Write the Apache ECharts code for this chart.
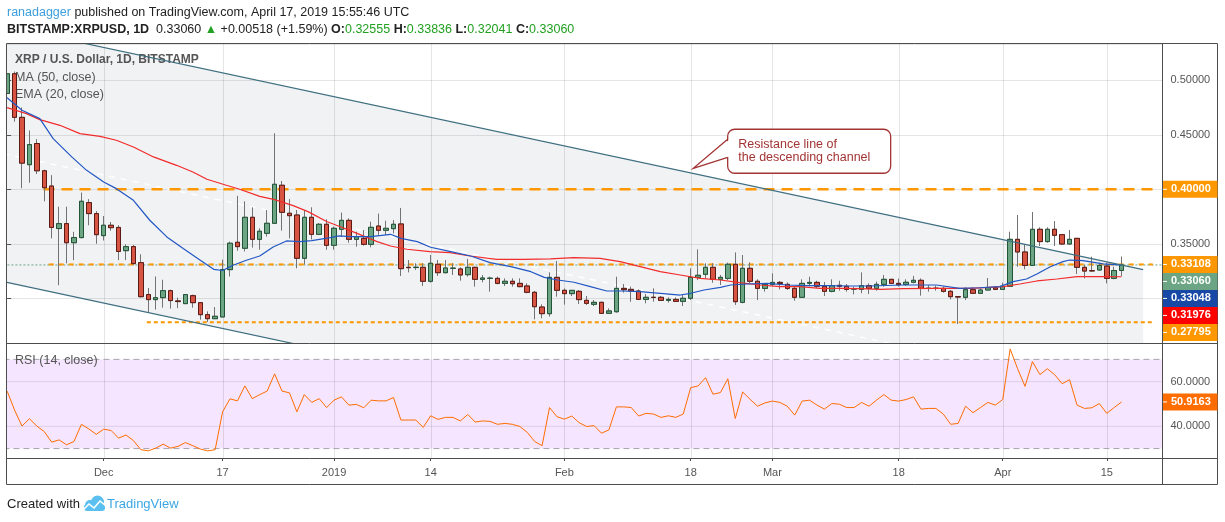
<!DOCTYPE html>
<html>
<head>
<meta charset="utf-8">
<title>XRP / U.S. Dollar, 1D, BITSTAMP</title>
<script src="https://cdn.jsdelivr.net/npm/echarts/dist/echarts.min.js"></script>
<style>
html, body { margin: 0; padding: 0; background: #fff; }
#chart { width: 1225px; height: 522px; }
</style>
</head>
<body>
<div id="chart"></div>
<script>
// Data (daily candles, Nov 18 2018 .. Apr 17 2019)
// ----------
var startDate = Date.UTC(2018, 10, 18)
var padDays = 5

var opens = [
  .488, .506, .466, .4226, .442, .417, .403, .364, .3685, .351,
  .3557, .3878, .3777, .3575, .367, .365, .3437, .3474, .3327, .3034,
  .2988, .3006, .307, .2976, .2951, .3024, .296, .285, .2813, .2829,
  .3263, .3514, .3459, .3743, .3541, .3596, .3688, .4037, .378, .3764,
  .3367, .3743, .3587, .3679, .3486, .3633, .3715, .3541, .355, .3495,
  .3663, .3624, .3639, .3682, .3284, .3282, .3284, .3156, .3312, .3235,
  .3275, .3269, .3217, .3284, .3174, .3183, .3183, .3137, .3156, .3137,
  .3113, .3055, .292, .2859, .3192, .3073, .3043, .3064, .2981, .2945,
  .2963, .2862, .2877, .3091, .3082, .3067, .2990, .3009, .3009, .2981,
  .2990, .2972, .3000, .3192, .3220, .3284, .3174, .3183, .3312, .2963,
  .3275, .3156, .3091, .3128, .3146, .3128, .3091, .3009, .3137, .3146,
  .3110, .3064, .3119, .3110, .3085, .3082, .3116, .3091, .3128, .3174,
  .3137, .3128, .3147, .3165, .3091, .3092, .3091, .3064, .3015, .3009,
  .3079, .3046, .3076, .3097, .3082, .3110, .3541, .3425, .3302, .3633,
  .3520, .3633, .3584, .3498, .3550, .3284, .3253, .3260, .3296, .3183,
  .32555
]
var highs = [
  .510, .508, .475, .454, .446, .418, .413, .384, .384, .361,
  .397, .391, .380, .3755, .370, .367, .3495, .349, .3404, .3095,
  .320, .317, .308, .3006, .3034, .3034, .2966, .288, .292, .3355,
  .352, .394, .389, .3835, .3642, .381, .4514, .4076, .391, .381,
  .381, .3835, .369, .3725, .3658, .3786, .3734, .3611, .3627, .3703,
  .3777, .3712, .3718, .3829, .3351, .3321, .3321, .3397, .3351, .3351,
  .3321, .3284, .3361, .329, .3214, .3199, .3199, .3183, .3183, .3183,
  .3137, .3067, .2945, .3238, .3342, .3091, .3076, .3076, .3021, .2984,
  .2969, .2908, .3198, .3131, .3107, .3082, .3039, .3091, .3021, .3009,
  .3009, .3036, .3275, .3449, .3321, .3321, .3214, .3327, .3421, .3397,
  .3330, .3174, .3137, .3229, .3158, .3146, .3107, .3174, .3198, .3161,
  .3150, .3174, .3161, .3131, .3107, .3238, .3137, .3153, .3214, .3176,
  .3180, .3174, .3205, .3183, .3122, .3116, .3107, .3076, .3018, .3101,
  .3101, .3091, .3186, .3113, .3143, .3611, .3764, .3498, .3792, .3651,
  .3651, .3709, .3590, .3627, .3550, .3306, .3382, .3327, .3327, .3290,
  .33836
]
var lows = [
  .485, .462, .401, .406, .414, .389, .355, .312, .332, .335,
  .355, .367, .350, .353, .362, .335, .335, .331, .3006, .2875,
  .2896, .2914, .2905, .291, .2951, .2914, .2804, .2783, .281, .2829,
  .320, .3436, .343, .3465, .3446, .3566, .3688, .3621, .355, .3275,
  .331, .354, .358, .3445, .3446, .3565, .351, .3474, .3483, .3468,
  .3581, .3581, .3596, .3205, .3238, .326, .3113, .3144, .3205, .3229,
  .3214, .3162, .3199, .3107, .3147, .3061, .3128, .3113, .3107, .3101,
  .3046, .2807, .2816, .2832, .3015, .2942, .3021, .2948, .2939, .2929,
  .2856, .2856, .2868, .3052, .2969, .2984, .2954, .2969, .2975, .2960,
  .2966, .2929, .2984, .3167, .3183, .3143, .3122, .3167, .2939, .2954,
  .3137, .2984, .3061, .3110, .3082, .3076, .2978, .3003, .3110, .3094,
  .3021, .3055, .3070, .3061, .3036, .3046, .3039, .3070, .3107, .3131,
  .3107, .3113, .3137, .3024, .3061, .3070, .3052, .2990, .2764, .2984,
  .3039, .3039, .3076, .3076, .3076, .3107, .3290, .3266, .3302, .3480,
  .3510, .3480, .3492, .3492, .3223, .3183, .3244, .3253, .3137, .3174,
  .32041
]
var closes = [
  .506, .466, .424, .441, .417, .4015, .365, .3685, .351, .3557,
  .389, .3777, .3584, .367, .3648, .343, .3474, .3318, .3015, .2988,
  .3006, .307, .2979, .297, .3034, .296, .285, .2813, .2835, .3263,
  .3505, .3474, .3743, .3541, .3615, .3688, .4046, .3789, .3758, .3367,
  .3743, .3587, .3679, .3486, .3642, .3715, .3541, .3565, .3495, .3651,
  .3624, .3642, .3679, .3272, .3281, .3285, .3156, .3321, .3235, .3278,
  .3276, .3214, .3284, .3174, .3186, .3184, .3137, .3156, .3134, .3107,
  .3055, .2923, .2859, .3192, .3073, .3043, .3073, .2988, .2954, .2963,
  .2862, .2884, .3091, .3079, .3067, .2990, .3009, .3008, .2981, .2990,
  .2972, .3000, .3192, .3211, .3284, .3174, .3192, .3312, .2969, .3275,
  .3156, .3091, .3128, .3146, .3137, .3091, .3009, .3137, .3146, .3110,
  .3064, .3116, .3110, .3082, .3086, .3116, .3091, .3128, .3174, .3137,
  .3125, .3147, .3165, .3091, .3092, .3091, .3064, .3015, .3012, .3079,
  .3046, .3076, .3097, .3082, .3110, .3541, .3425, .3302, .3633, .3520,
  .3633, .3578, .3498, .3541, .3284, .3250, .3252, .3302, .3183, .32542,
  .33060
]

// RSI (14, close), one value per day
var rsi = [
  55.8, 47.3, 40.1, 43.4, 40.1, 37.6, 32.9, 33.9, 31.7, 33.2,
  40.9, 38.8, 36.4, 38.7, 38.1, 34.7, 36.1, 33.6, 29.5, 29.0,
  30.2, 32.0, 30.2, 31.0, 32.7, 31.3, 29.8, 29.0, 29.5, 46.5,
  52.3, 51.4, 58.1, 52.4, 54.2, 55.8, 63.5, 55.8, 55.0, 46.5,
  54.2, 50.7, 52.4, 48.4, 51.7, 53.2, 49.5, 49.8, 48.3, 51.7,
  51.4, 51.4, 52.9, 42.8, 42.8, 42.8, 39.5, 44.7, 43.1, 44.0,
  44.0, 42.4, 45.3, 41.9, 42.4, 42.2, 40.9, 41.3, 40.9, 39.9,
  37.3, 33.2, 31.3, 48.4, 44.3, 43.2, 44.6, 41.6, 39.9, 40.3,
  36.9, 38.4, 48.7, 48.7, 48.4, 44.6, 45.8, 45.5, 44.0, 44.7,
  44.0, 45.5, 57.3, 58.1, 61.8, 54.4, 55.1, 61.3, 43.5, 55.4,
  52.1, 49.0, 50.5, 51.3, 50.7, 49.0, 45.0, 51.3, 51.7, 49.5,
  47.7, 50.2, 49.9, 48.4, 48.4, 50.7, 49.0, 51.7, 54.2, 51.7,
  51.3, 52.0, 53.2, 47.7, 48.0, 48.0, 45.5, 40.9, 41.3, 49.0,
  46.1, 48.4, 50.7, 49.5, 52.0, 74.7, 65.8, 57.9, 69.0, 63.2,
  65.8, 63.1, 59.1, 60.9, 49.5, 48.0, 48.3, 50.2, 45.8, 48.4,
  50.9163
]

// EMA (20, close) (day index, price)
var emaDays = [0, 2, 4.4, 6.2, 8.7, 10.7, 13, 14.7, 17, 19.2, 21.5, 23.7, 26, 27.8, 29, 30.4, 32.2, 34,
  35.8, 37.6, 39.4, 41, 43.5, 44.7, 46.2, 48.9, 51.6, 53, 55.2, 57, 59.7, 62.4, 65, 67.8, 70.5, 72.3,
  74.1, 76.3, 78.5, 80.7, 82.9, 85.2, 87.9, 90.6, 92, 93.8, 96, 97.4, 99.6, 102.3, 105, 107.7, 110.4,
  113.1, 116, 120.6, 125.1, 128.2, 130.9, 133.6, 135.4, 137.2, 138.6, 140.4, 142.1, 143, 144.8, 147.5, 150]
var emaVals = [.484, .4725, .4648, .4465, .4297, .4174, .4067, .4006, .3899, .3716, .3563, .3456, .3349,
  .3266, .3255, .3303, .3349, .3388, .3471, .3526, .352, .3529, .3556, .3572, .3565, .3565, .3587, .355,
  .352, .3468, .3428, .3388, .3327, .329, .3244, .3192, .3168, .3147, .3107, .3067, .3067, .3061, .3046,
  .303, .3046, .3076, .31, .3122, .3131, .3137, .3122, .3116, .3116, .3113, .3113, .3122, .3122, .3091,
  .3097, .3107, .3153, .3177, .3223, .329, .3336, .3351, .3345, .3315, .33048]

// MA (50, close)
var smaDays = [0, 2.6, 4.4, 7.1, 9.8, 12.5, 14.7, 17, 19.7, 22.8, 25, 26.9, 29.5, 31.3, 34, 36, 38.5,
  40.5, 43, 44.5, 47.1, 49.8, 51.6, 53.8, 56.9, 59.6, 62.3, 65.9, 69.5, 73.1, 76.3, 79.8, 82.5, 85.2,
  87.9, 90.6, 93.3, 96, 98.6, 101.3, 104, 106.7, 109.4, 112.1, 114.8, 117.5, 120.6, 125.1, 129.6, 134.1,
  136.3, 138.6, 141.3, 144, 147.5, 150]
var smaVals = [.4749, .4694, .4639, .4587, .4511, .4486, .445, .4388, .4297, .422, .4159, .4092, .4037,
  .40, .3935, .3905, .385, .3795, .3705, .3665, .3596, .352, .348, .345, .3428, .3419, .3388, .3357,
  .3357, .3361, .3373, .3367, .3336, .329, .3244, .3214, .3183, .3168, .3143, .3122, .3107, .3107,
  .3091, .3091, .3088, .3082, .3088, .3091, .3091, .3107, .3131, .3159, .3177, .3199, .3199, .31976]

// time axis labels
var tickDates = ['2018-12-01', '2018-12-17', '2019-01-01', '2019-01-14', '2019-02-01',
  '2019-02-18', '2019-03-01', '2019-03-18', '2019-04-01', '2019-04-15']
var tickTexts = ['Dec', '17', '2019', '14', 'Feb', '18', 'Mar', '18', 'Apr', '15']

// drawings: descending channel (day index, price) and horizontal levels
var chanDays = [-0.5, 152.9]
var chanUpper = [0.5498, 0.3263]
var chanLower = [0.3153, 0.0918]
var chanMid = [0.4326, 0.2091]
var levelPrices = [0.40, 0.33108, 0.27795]
var levelFrom = [4.9, 5.6, 18.8]
var levelTo = 154.2
var noteAt = [92.35, 0.4193]
var noteLines = ['Resistance line of', 'the descending channel']

// Build
// ----------
var FONT = '"Liberation Sans", Arial, sans-serif'
var UP = '#6ba583', DOWN = '#d75442', ORANGE = '#ff9800'
var EMA_C = '#2257c4', SMA_C = '#f22b2b', RSI_C = '#ff6d00'
var DAY_W = 7.43, LEFT = 3.4

var dates = []
for (var i = 0; i < opens.length + padDays; i++) {
  dates.push(new Date(startDate + i * 864e5).toISOString().slice(0, 10))
}
var N = dates.length
var last = closes.length - 1
var tickIdx = tickDates.map(function (d) { return dates.indexOf(d) })

function isTick(index, value) { return tickDates.indexOf(value) >= 0 }
function tickText(value) { return tickTexts[tickDates.indexOf(value)] || '' }
function pairs(xs, ys) { return xs.map(function (x, i) { return [x, ys[i]] }) }

var candleFull = opens.map(function (o, i) { return [o, closes[i], lows[i], highs[i]] })
var candleBody = opens.map(function (o, i) {
  return [o, closes[i], Math.min(o, closes[i]), Math.max(o, closes[i])]
})

function hline(name, xi, yi, x0, x1, y, style, z) {
  return {
    type: 'line', name: name, xAxisIndex: xi, yAxisIndex: yi, z: z, silent: true,
    symbol: 'none', data: [[x0, y], [x1, y]], lineStyle: style
  }
}

function vgrid(xi, yi) {
  return {
    type: 'custom', xAxisIndex: xi, yAxisIndex: yi, z: 2, silent: true,
    data: tickIdx,
    renderItem: function (params, api) {
      var cs = params.coordSys
      var x = Math.round(api.coord([api.value(0), 0])[0]) + 0.5
      return {
        type: 'line', shape: { x1: x, y1: cs.y, x2: x, y2: cs.y + cs.height },
        style: { stroke: 'rgba(0,0,0,0.1)', lineWidth: 1 }
      }
    }
  }
}

var chart = echarts.init(document.getElementById('chart'))

var option = {
  animation: false,
  backgroundColor: '#ffffff',
  textStyle: { fontFamily: FONT },
  grid: [
    { left: LEFT, top: 44, width: N * DAY_W, height: 299 },
    { left: LEFT, top: 343, width: N * DAY_W, height: 115 }
  ],
  xAxis: [
    { type: 'category', gridIndex: 0, data: dates, boundaryGap: true, show: false },
    { type: 'value', gridIndex: 0, min: -0.5, max: N - 0.5, show: false },
    {
      type: 'category', gridIndex: 1, data: dates, boundaryGap: true,
      axisLine: { show: false },
      axisTick: { show: true, interval: isTick, alignWithLabel: true, length: 3, lineStyle: { color: '#4d4d4d' } },
      axisLabel: { interval: isTick, formatter: tickText, color: '#555', fontSize: 11, margin: 9, fontFamily: FONT },
      splitLine: { show: false }
    },
    { type: 'value', gridIndex: 1, min: -0.5, max: N - 0.5, show: false }
  ],
  yAxis: [
    {
      type: 'value', gridIndex: 0, position: 'right', min: 0.25899, max: 0.5333,
      axisLine: { show: false },
      axisTick: { show: true, length: 4, lineStyle: { color: '#4d4d4d' } },
      axisLabel: {
        color: '#555', fontSize: 11, margin: 8, fontFamily: FONT, showMinLabel: false, showMaxLabel: false,
        formatter: function (v) { return v.toFixed(5) }
      },
      splitLine: { lineStyle: { color: 'rgba(0,0,0,0.1)' } }
    },
    {
      type: 'value', gridIndex: 1, position: 'right', min: 25.78, max: 77.35,
      axisLine: { show: false }, axisTick: { show: false },
      axisLabel: {
        color: '#555', fontSize: 11, margin: 8, fontFamily: FONT, showMinLabel: false, showMaxLabel: false,
        formatter: function (v) { return (v === 40 || v === 60) ? v.toFixed(4) : '' }
      },
      splitLine: { show: false }
    }
  ],
  series: [
    {
      type: 'custom', name: 'channel fill', xAxisIndex: 1, yAxisIndex: 0, z: 1, silent: true, clip: true,
      data: [0],
      renderItem: function (params, api) {
        var cs = params.coordSys
        var pts = [
          api.coord([chanDays[0], chanUpper[0]]), api.coord([chanDays[1], chanUpper[1]]),
          api.coord([chanDays[1], chanLower[1]]), api.coord([chanDays[0], chanLower[0]])
        ]
        return {
          type: 'polygon', shape: { points: pts },
          style: { fill: 'rgba(120,130,150,0.1)' },
          clipPath: { type: 'rect', shape: { x: cs.x, y: cs.y, width: cs.width, height: cs.height } }
        }
      }
    },
    vgrid(1, 0),
    {
      type: 'line', name: 'channel mid', xAxisIndex: 1, yAxisIndex: 0, z: 2, silent: true, symbol: 'none',
      data: pairs(chanDays, chanMid), lineStyle: { color: '#ffffff', width: 1.5, type: [6, 6] }
    },
    hline('level 0', 1, 0, levelFrom[0], levelTo, levelPrices[0], { color: ORANGE, width: 2.5, type: [11, 7] }, 3),
    hline('price', 1, 0, -0.5, N - 0.5, closes[last], { color: UP, width: 1, type: [2, 2] }, 3),
    hline('level 1', 1, 0, levelFrom[1], levelTo, levelPrices[1], { color: ORANGE, width: 2, type: [5, 5] }, 3),
    hline('level 2', 1, 0, levelFrom[2], levelTo, levelPrices[2], { color: ORANGE, width: 2, type: [4, 3] }, 3),
    {
      type: 'candlestick', name: 'wicks', xAxisIndex: 0, yAxisIndex: 0, z: 4, silent: true,
      barWidth: 5, data: candleFull,
      itemStyle: { color: 'rgba(0,0,0,0)', color0: 'rgba(0,0,0,0)', borderColor: '#737375', borderColor0: '#737375', borderWidth: 1 }
    },
    {
      type: 'candlestick', name: 'XRPUSD', xAxisIndex: 0, yAxisIndex: 0, z: 5, silent: true,
      barWidth: 5, data: candleBody,
      itemStyle: { color: UP, color0: DOWN, borderColor: '#225437', borderColor0: '#5b1a13', borderWidth: 1 }
    },
    {
      type: 'line', name: 'MA (50, close)', xAxisIndex: 1, yAxisIndex: 0, z: 6, silent: true, symbol: 'none',
      data: pairs(smaDays, smaVals), lineStyle: { color: SMA_C, width: 1.2 }
    },
    {
      type: 'line', name: 'EMA (20, close)', xAxisIndex: 1, yAxisIndex: 0, z: 6, silent: true, symbol: 'none',
      data: pairs(emaDays, emaVals), lineStyle: { color: EMA_C, width: 1.2 }
    },
    {
      type: 'line', name: 'channel upper', xAxisIndex: 1, yAxisIndex: 0, z: 7, silent: true, symbol: 'none',
      data: pairs(chanDays, chanUpper), lineStyle: { color: '#3f6f80', width: 1.2 }
    },
    {
      type: 'line', name: 'channel lower', xAxisIndex: 1, yAxisIndex: 0, z: 7, silent: true, symbol: 'none',
      data: pairs(chanDays, chanLower), lineStyle: { color: '#3f6f80', width: 1.2 }
    },

    // RSI pane
    {
      type: 'custom', name: 'rsi band', xAxisIndex: 3, yAxisIndex: 1, z: 1, silent: true,
      data: [0],
      renderItem: function (params, api) {
        var a = api.coord([-0.5, 70]), b = api.coord([N - 0.5, 30])
        return {
          type: 'rect', shape: { x: a[0], y: a[1], width: b[0] - a[0], height: b[1] - a[1] },
          style: { fill: 'rgba(153,0,255,0.1)' }
        }
      }
    },
    vgrid(3, 1),
    hline('rsi 60', 3, 1, -0.5, N - 0.5, 60, { color: 'rgba(0,0,0,0.1)', width: 1 }, 2),
    hline('rsi 40', 3, 1, -0.5, N - 0.5, 40, { color: 'rgba(0,0,0,0.1)', width: 1 }, 2),
    hline('rsi 70', 3, 1, -0.5, N - 0.5, 70, { color: '#a8a2b0', width: 1, type: [6, 4] }, 2),
    hline('rsi 30', 3, 1, -0.5, N - 0.5, 30, { color: '#a8a2b0', width: 1, type: [6, 4] }, 2),
    {
      type: 'line', name: 'RSI (14, close)', xAxisIndex: 3, yAxisIndex: 1, z: 5, silent: true, symbol: 'none',
      data: rsi.map(function (v, i) { return [i, v] }), lineStyle: { color: RSI_C, width: 1 }
    }
  ]
}
chart.setOption(option)

// Overlay: frame, texts, price tags, callout
// ----------
var plotRight = LEFT + N * DAY_W
var axisX = Math.round(plotRight) + 0.5
var g = []
var frame = { stroke: '#4d4d4d', lineWidth: 1 }

g.push({ type: 'rect', z: 90, shape: { x: 0, y: 40, width: 6.5, height: 446 }, style: { fill: '#fff' } })
g.push({ type: 'rect', z: 100, shape: { x: 6.5, y: 43.5, width: 1211, height: 441 }, style: { fill: 'none', stroke: '#4d4d4d', lineWidth: 1 } })
g.push({ type: 'line', z: 100, shape: { x1: 6.5, y1: 343.5, x2: 1217.5, y2: 343.5 }, style: frame })
g.push({ type: 'line', z: 100, shape: { x1: 6.5, y1: 458.5, x2: 1217.5, y2: 458.5 }, style: frame })
g.push({ type: 'line', z: 100, shape: { x1: axisX, y1: 43.5, x2: axisX, y2: 484.5 }, style: frame })

function txt(x, y, rich, text, z) {
  return { type: 'text', x: x, y: y, z: z || 100, style: { text: text, rich: rich, verticalAlign: 'middle', fontFamily: FONT, fontSize: 12.5 } }
}
var hdrRich = {
  u: { fill: '#3d9fdc', fontSize: 12.5, fontFamily: FONT },
  t: { fill: '#222', fontSize: 12.5, fontFamily: FONT },
  b: { fill: '#222', fontSize: 12.5, fontFamily: FONT, fontWeight: 'bold' },
  g: { fill: '#22a022', fontSize: 12.5, fontFamily: FONT }
}
var chg = closes[last] - closes[last - 1]
g.push(txt(7, 13, hdrRich, '{u|ranadagger}{t| published on TradingView.com, April 17, 2019 15:55:46 UTC}'))
g.push(txt(7, 30, hdrRich,
  '{b|BITSTAMP:XRPUSD, 1D}{t|  ' + closes[last].toFixed(5) + ' }{g|▲}{t| +' + chg.toFixed(5) +
  ' (+' + (chg / closes[last - 1] * 100).toFixed(2) + '%) }' +
  '{b|O:}{g|' + opens[last].toFixed(5) + '}{b| H:}{g|' + highs[last].toFixed(5) + '}' +
  '{b| L:}{g|' + lows[last].toFixed(5) + '}{b| C:}{g|' + closes[last].toFixed(5) + '}'))

var lgRich = {
  b: { fill: '#555', fontSize: 12, fontFamily: FONT, fontWeight: 'bold' },
  t: { fill: '#555', fontSize: 12.5, fontFamily: FONT }
}
g.push(txt(15, 60, lgRich, '{b|XRP / U.S. Dollar, 1D, BITSTAMP}', 3))
g.push(txt(15, 78, lgRich, '{t|MA (50, close)}', 3))
g.push(txt(15, 95, lgRich, '{t|EMA (20, close)}', 3))
g.push(txt(15, 361, lgRich, '{t|RSI (14, close)}', 3))

// footer
g.push(txt(7, 504, { t: { fill: '#222', fontSize: 13, fontFamily: FONT } }, '{t|Created with}'))
g.push({ type: 'circle', z: 100, shape: { cx: 90, cy: 505, r: 5 }, style: { fill: '#5bc0ef' } })
g.push({ type: 'circle', z: 100, shape: { cx: 97.5, cy: 502, r: 6.5 }, style: { fill: '#5bc0ef' } })
g.push({ type: 'rect', z: 100, shape: { x: 84, y: 504, width: 21, height: 7, r: 3 }, style: { fill: '#5bc0ef' } })
g.push({ type: 'polyline', z: 101, shape: { points: [[83, 510], [89, 504], [94, 508], [100, 501], [106, 506]] }, style: { stroke: '#fff', lineWidth: 1.6, fill: null } })
g.push(txt(107, 504, { t: { fill: '#3aa7e4', fontSize: 13, fontFamily: FONT } }, '{t|TradingView}'))

// price tags on the right axis
var tags = [
  { v: levelPrices[0], bg: ORANGE },
  { v: levelPrices[1], bg: ORANGE },
  { v: closes[last], bg: UP },
  { v: emaVals[emaVals.length - 1], bg: '#1748a6' },
  { v: smaVals[smaVals.length - 1], bg: '#ff0000' },
  { v: levelPrices[2], bg: ORANGE }
].sort(function (a, b) { return b.v - a.v })

function tag(y, label, bg) {
  g.push({ type: 'rect', z: 110, shape: { x: axisX + 0.5, y: y - 8.5, width: 1217 - axisX, height: 17 }, style: { fill: bg } })
  g.push({ type: 'line', z: 111, shape: { x1: axisX + 0.5, y1: y, x2: axisX + 4.5, y2: y }, style: { stroke: '#fff', lineWidth: 1 } })
  g.push({ type: 'text', z: 111, x: axisX + 8.5, y: y, style: { text: label, fill: '#fff', fontFamily: FONT, fontSize: 11, fontWeight: 'bold', verticalAlign: 'middle' } })
}
var prevY = -1e9
tags.forEach(function (t) {
  var y = Math.max(chart.convertToPixel({ yAxisIndex: 0 }, t.v), prevY + 17)
  prevY = y
  tag(y, t.v.toFixed(5), t.bg)
})
tag(chart.convertToPixel({ yAxisIndex: 1 }, rsi[last]), rsi[last].toFixed(4), RSI_C)

// callout: rounded box with a pointer towards the channel's upper line
var tip = chart.convertToPixel({ xAxisIndex: 1, yAxisIndex: 0 }, noteAt)
var bx = tip[0] + 34.4, by = tip[1] - 39, bw = 163, bh = 44
var NOTE_C = '#a33434'
g.push({ type: 'rect', z: 50, shape: { x: bx, y: by, width: bw, height: bh, r: 7 }, style: { fill: '#fff', stroke: NOTE_C, lineWidth: 1.3 } })
g.push({ type: 'polygon', z: 51, shape: { points: [[bx + 1.5, by + 10.5], [tip[0] + 1, tip[1]], [bx + 1.5, by + 27.5]] }, style: { fill: '#fff' } })
g.push({ type: 'polyline', z: 52, shape: { points: [[bx, by + 10], [tip[0], tip[1]], [bx, by + 28]] }, style: { stroke: NOTE_C, lineWidth: 1.3, fill: null } })
g.push({ type: 'text', z: 53, x: bx + 10.6, y: by + 15, style: { text: noteLines[0], fill: NOTE_C, fontFamily: FONT, fontSize: 12.5, verticalAlign: 'middle' } })
g.push({ type: 'text', z: 53, x: bx + 10.6, y: by + 28.5, style: { text: noteLines[1], fill: NOTE_C, fontFamily: FONT, fontSize: 12.5, verticalAlign: 'middle' } })

chart.setOption({ graphic: g })
</script>
</body>
</html>
